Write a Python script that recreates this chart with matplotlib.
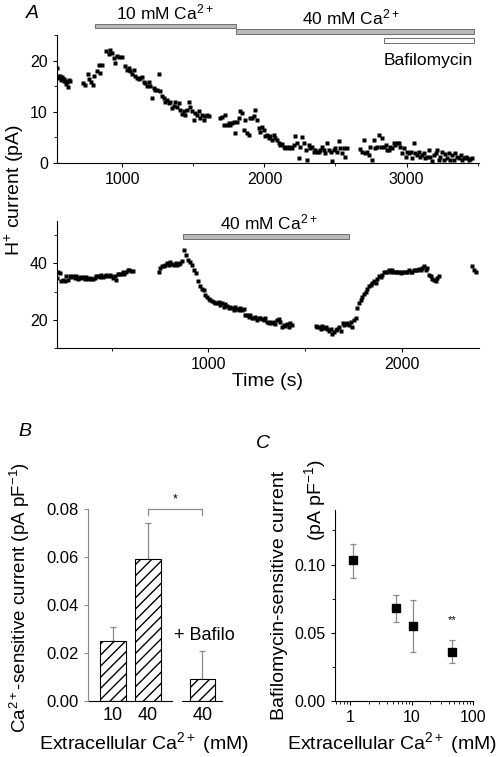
import numpy as np
import matplotlib
matplotlib.use("Agg")
import matplotlib.pyplot as plt
from matplotlib.ticker import MultipleLocator, LogLocator, NullFormatter, FixedLocator

plt.rcParams.update({
    "font.family": ["Liberation Sans", "DejaVu Sans"],
    "mathtext.fontset": "custom",
    "mathtext.rm": "Liberation Sans",
    "mathtext.it": "Liberation Sans:italic",
    "mathtext.bf": "Liberation Sans:bold",
    "axes.linewidth": 0.8,
})

# ---- A, upper trace: H+ current (pA) vs time (s)
A1_T = [542, 548, 554, 561, 567, 573, 580, 586, 592, 599, 605, 611, 617, 624, 630,
        723, 739, 756, 763, 779, 793, 803, 822, 833, 845, 857,
        887, 904, 916, 927, 939, 951, 962, 979, 998, 1016, 1033, 1045, 1056, 1068,
        1080, 1092, 1103, 1115, 1127, 1138, 1150, 1162, 1174, 1185, 1197, 1209,
        1221, 1232, 1244, 1256, 1268, 1279, 1291, 1303, 1315, 1326, 1338, 1350,
        1361, 1373, 1385, 1397, 1408, 1420, 1432, 1444, 1455, 1467, 1479, 1491,
        1502, 1514, 1526, 1537, 1549, 1561, 1573, 1584, 1596, 1608,
        1690, 1702, 1714, 1725, 1737, 1749, 1760, 1772, 1784, 1796, 1807, 1819,
        1831, 1843, 1854, 1866, 1878, 1890, 1901, 1913, 1925, 1936, 1948, 1960,
        1972, 1983, 1995, 2007, 2019, 2030, 2042, 2054, 2066, 2077, 2089, 2101,
        2112, 2124, 2136, 2148, 2159, 2171, 2183, 2195, 2206, 2218, 2230, 2242,
        2253, 2265, 2277, 2289, 2300, 2312, 2324, 2335, 2347, 2359, 2371, 2382,
        2394, 2406, 2418, 2429, 2441, 2453, 2465, 2476, 2488, 2500, 2511, 2523,
        2535, 2547, 2558, 2570, 2582,
        2676, 2688, 2699, 2711, 2723, 2734, 2746, 2758, 2770, 2781, 2793, 2805,
        2817, 2828, 2840, 2852, 2863, 2875, 2887, 2899, 2910, 2922, 2934, 2946,
        2957, 2969, 2981, 2993, 3004, 3016, 3028, 3039, 3051, 3063, 3075, 3086,
        3098, 3110, 3122, 3133, 3145, 3157, 3168, 3180, 3192, 3204, 3215, 3227,
        3239, 3251, 3262, 3274, 3286, 3297, 3309, 3321, 3333, 3344, 3356, 3368,
        3380, 3391, 3403, 3415, 3426, 3438, 3450, 3462]
A1_I = [18.6, 16.9, 16.6, 17.0, 16.2, 16.8, 16.4, 16.0, 16.5, 16.1, 15.4, 15.9, 14.8, 16.3, 16.0,
        15.6, 15.3, 17.3, 16.4, 15.9, 15.3, 16.9, 17.9, 19.2, 17.6, 19.2,
        21.8, 21.2, 22.0, 21.5, 20.5, 19.5, 20.9, 20.7, 20.7, 18.9, 18.2, 18.6, 17.9, 17.3,
        18.2, 16.9, 16.6, 16.5, 16.6, 16.8, 15.9, 15.6, 15.0, 15.8, 15.0, 12.7,
        14.6, 14.3, 14.3, 17.3, 14.0, 13.0, 12.7, 12.0, 12.4, 11.7, 12.0, 10.7,
        11.2, 12.0, 11.0, 11.7, 10.4, 9.5, 10.1, 9.4, 10.4, 12.0, 11.0, 10.1,
        8.4, 9.7, 9.4, 10.1, 8.8, 9.4, 8.4, 9.1, 9.4, 9.1,
        8.8, 9.0, 7.5, 9.4, 7.5, 7.8, 7.5, 7.8, 8.1, 5.9, 8.1, 8.8,
        10.1, 9.7, 6.5, 8.4, 5.8, 5.5, 8.8, 8.8, 9.1, 10.4, 8.4, 6.8,
        6.1, 7.1, 6.5, 5.2, 5.5, 4.8, 5.2, 4.5, 5.5, 4.8, 4.5, 3.9,
        3.5, 3.7, 3.2, 2.9, 3.2, 2.9, 3.2, 2.9, 3.5, 5.2, 3.9, 0.9,
        3.2, 5.0, 3.9, 2.5, 0.6, 3.5, 2.9, 3.2, 2.2, 2.5, 2.2, 2.2,
        2.5, 3.2, 2.5, 1.9, 3.9, 2.5, 2.2, 0.3, 2.5, 2.9, 2.2, 4.2,
        2.9, 1.9, 2.9, 1.2, 2.9,
        2.7, 2.2, 4.5, 1.9, 2.2, 1.6, 3.2, 0.6, 4.5, 2.9, 3.2, 5.5,
        3.2, 4.8, 3.2, 3.5, 2.5, 2.5, 3.2, 2.9, 3.9, 3.5, 3.9, 4.0,
        3.2, 1.9, 2.9, 1.2, 2.2, 1.9, 2.2, 0.9, 3.9, 1.9, 1.6, 2.2,
        1.2, 1.6, 1.9, 0.9, 1.2, 2.5, 1.2, 0.3, 1.6, 1.9, 2.5, 0.6,
        1.2, 2.2, 0.6, 1.8, 0.9, 2.0, 0.6, 1.6, 0.6, 1.9, 1.2, 0.9,
        1.6, 0.6, 0.9, 1.2, 0.9, 0.6, 0.7, 0.9]
A1_CA10 = (805, 1803)
A1_CA40 = (1803, 3474)
A1_BAF = (2840, 3474)

# ---- A, lower trace
A2_T = [217, 224, 231, 239, 248, 257, 265, 274, 282, 291, 300, 308, 317, 325, 334,
        343, 351, 360, 368, 377, 386, 394, 403, 411, 420, 429, 437, 446, 454, 463,
        472, 480, 489, 497, 506, 515, 523, 532, 540, 549, 558, 566, 575, 584, 592,
        601, 609,
        744, 752, 761, 769, 778, 787, 795, 804, 812, 821, 830, 838, 847, 855, 864,
        876, 885, 897, 905, 916, 928, 936, 948, 959, 967, 976, 985, 993, 1002,
        1010, 1019, 1028, 1036, 1045, 1053, 1062, 1071, 1079, 1088, 1096, 1105,
        1114, 1122, 1131, 1139, 1148, 1157, 1165, 1174, 1182, 1191, 1200, 1208,
        1217, 1225, 1234, 1243, 1251, 1260, 1268, 1277, 1286, 1294, 1303, 1312,
        1320, 1329, 1337, 1346, 1355, 1363, 1372, 1380, 1389, 1398, 1406, 1415,
        1423, 1432,
        1556, 1564, 1573, 1582, 1590, 1599, 1608, 1616, 1625, 1633, 1642, 1651,
        1659, 1668, 1676, 1685, 1694, 1702, 1711, 1719, 1728, 1737, 1745, 1754,
        1762, 1771, 1780, 1788, 1797, 1805, 1814, 1823, 1831, 1840, 1848, 1857,
        1866, 1874, 1883, 1891, 1900, 1909, 1917, 1926, 1935, 1943, 1952, 1960,
        1969, 1978, 1986, 1995, 2003, 2012, 2021, 2029, 2038, 2046, 2055, 2064,
        2072, 2081, 2089, 2098, 2107, 2115, 2124, 2132, 2141, 2150, 2158, 2167,
        2176, 2184, 2193,
        2365, 2373, 2382]
A2_I = [34.8, 37.1, 36.5, 33.6, 34.2, 33.6, 35.6, 34.2, 35.4, 35.1, 35.6, 34.8, 35.4, 34.6, 35.1,
        34.8, 35.0, 34.6, 35.0, 34.4, 34.8, 34.4, 34.5, 34.9, 35.4, 35.6, 35.1, 36.0, 35.1, 35.6,
        36.0, 35.4, 35.8, 35.4, 34.8, 35.6, 34.2, 36.3, 36.3, 36.1, 36.8, 36.3, 37.1, 37.7, 37.5,
        37.3, 37.4,
        37.1, 38.3, 38.9, 39.2, 39.5, 40.1, 39.5, 40.4, 39.9, 39.4, 40.1, 39.5, 39.9, 40.1, 40.7,
        44.9, 43.1, 41.3, 40.4, 39.5, 37.7, 36.5, 33.6, 31.8, 30.8, 30.4, 28.8, 27.9, 27.3,
        27.0, 26.8, 26.4, 26.1, 25.8, 26.4, 25.2, 25.8, 24.6, 25.6, 24.9, 24.1,
        24.6, 24.1, 23.5, 24.4, 23.7, 23.5, 24.1, 23.5, 23.7, 21.7, 21.7, 21.1,
        21.7, 20.8, 20.5, 21.1, 19.9, 20.5, 20.8, 20.1, 19.9, 20.5, 19.3, 18.9,
        19.3, 18.7, 19.3, 18.5, 19.9, 20.1, 19.3, 17.5, 18.1, 17.7, 18.5, 17.5,
        18.7, 18.0,
        17.7, 17.3, 17.5, 16.9, 17.7, 17.2, 17.5, 16.6, 16.1, 16.9, 15.1, 15.7,
        16.3, 16.6, 17.5, 16.1, 18.9, 18.1, 18.5, 18.9, 18.1, 19.3, 17.5, 19.9,
        20.5, 24.1, 25.8, 27.0, 28.2, 29.1, 30.0, 30.8, 31.8, 32.4, 33.0, 33.6,
        33.2, 34.4, 35.4, 35.1, 36.0, 36.8, 37.1, 37.1, 37.5, 37.1, 37.5, 36.8,
        37.1, 36.8, 37.1, 36.5, 37.1, 36.8, 37.1, 36.8, 37.5, 37.1, 37.1, 37.5,
        37.7, 37.5, 38.0, 37.7, 38.3, 38.9, 37.7, 38.3, 36.0, 35.4, 34.4, 34.2,
        33.6, 34.8, 35.4,
        38.9, 37.7, 37.1]
A2_CA40 = (867, 1728)

# ---- B: Ca2+-sensitive current (pA pF-1)
B_LABELS = ["10", "40", "40"]
B_MEAN = [0.025, 0.059, 0.009]
B_SEM = [0.006, 0.015, 0.012]

# ---- C: bafilomycin-sensitive current vs extracellular Ca2+ (mM)
C_CA = [1.1, 5.5, 10.5, 45]
C_MEAN = [0.103, 0.068, 0.055, 0.036]
C_ERR_LO = [0.013, 0.010, 0.019, 0.008]
C_ERR_HI = [0.012, 0.010, 0.019, 0.009]

BAR_GREY = "#b9b9b9"
BAR_EDGE = "#6e6e6e"
ERR_GREY = "#8a8a8a"

fig = plt.figure(figsize=(4.96, 7.57), dpi=100)
W, H = 496, 757


def add_ax(l, t, r, b):
    return fig.add_axes([l / W, 1 - b / H, (r - l) / W, (b - t) / H])


def clean(ax, lsize=11.5):
    ax.spines["top"].set_visible(False)
    ax.spines["right"].set_visible(False)
    ax.tick_params(direction="out", length=3, width=0.8, labelsize=lsize)
    ax.tick_params(which="minor", direction="out", length=2, width=0.6)


# ---- A upper
ax1 = add_ax(57, 35, 479, 163)
clean(ax1)
ax1.plot(A1_T, A1_I, "s", color="black", ms=2.6, mec="none")
ax1.set_xlim(540, 3510)
ax1.set_ylim(0, 25)
ax1.xaxis.set_major_locator(MultipleLocator(1000))
ax1.xaxis.set_minor_locator(MultipleLocator(500))
ax1.yaxis.set_major_locator(MultipleLocator(10))
ax1.yaxis.set_minor_locator(MultipleLocator(5))
ax1.barh(26.8, A1_CA10[1] - A1_CA10[0], left=A1_CA10[0], height=0.8,
         color=BAR_GREY, edgecolor=BAR_EDGE, lw=0.7, clip_on=False)
ax1.barh(25.7, A1_CA40[1] - A1_CA40[0], left=A1_CA40[0], height=0.9,
         color=BAR_GREY, edgecolor=BAR_EDGE, lw=0.7, clip_on=False)
ax1.barh(23.9, A1_BAF[1] - A1_BAF[0], left=A1_BAF[0], height=0.9,
         color="white", edgecolor=BAR_EDGE, lw=0.7, clip_on=False)
ax1.text(1300, 27.4, "10 mM Ca$^{2+}$", ha="center", va="bottom", fontsize=12.5)
ax1.text(2605, 26.4, "40 mM Ca$^{2+}$", ha="center", va="bottom", fontsize=12.5)
ax1.text(3152, 20.0, "Bafilomycin", ha="center", va="center", fontsize=12.5)
fig.text(32 / W, 1 - 14 / H, "A", fontsize=14, style="italic", ha="center", va="center")

# ---- A lower
ax2 = add_ax(57, 221, 479, 348)
clean(ax2)
ax2.plot(A2_T, A2_I, "s", color="black", ms=2.6, mec="none")
ax2.set_xlim(217, 2400)
ax2.set_ylim(10, 55)
ax2.xaxis.set_major_locator(MultipleLocator(1000))
ax2.xaxis.set_minor_locator(MultipleLocator(500))
ax2.yaxis.set_major_locator(MultipleLocator(20))
ax2.yaxis.set_minor_locator(MultipleLocator(10))
ax2.barh(49.4, A2_CA40[1] - A2_CA40[0], left=A2_CA40[0], height=1.8,
         color=BAR_GREY, edgecolor=BAR_EDGE, lw=0.7, clip_on=False)
ax2.text(1315, 50.8, "40 mM Ca$^{2+}$", ha="center", va="bottom", fontsize=12.5)
ax2.set_xlabel("Time (s)", fontsize=14, labelpad=1)
fig.text(14 / W, 1 - 190 / H, "H$^{+}$ current (pA)", rotation=90, fontsize=14,
         ha="center", va="center")

# ---- B
axb = add_ax(88, 509, 222, 701)
axb.spines["top"].set_visible(False)
axb.spines["right"].set_visible(False)
axb.spines["bottom"].set_visible(False)
axb.spines["left"].set_color(ERR_GREY)
xpos = [1.0, 2.0, 3.55]
axb.bar(xpos, B_MEAN, width=0.72, color="white", edgecolor="black", lw=0.8,
        hatch="///", zorder=2)
axb.errorbar(xpos, B_MEAN, yerr=[np.zeros(3), B_SEM], fmt="none", ecolor=ERR_GREY,
             elinewidth=0.9, capsize=2, capthick=0.9, zorder=1)
axb.set_xlim(0.29, 4.11)
axb.set_ylim(0, 0.08)
axb.axhline(0, 0, 0.627, color="black", lw=0.8, clip_on=False)
axb.axhline(0, 0.70, 1.0, color="black", lw=0.8, clip_on=False)
axb.set_xticks(xpos)
axb.set_xticklabels(B_LABELS, fontsize=13)
axb.tick_params(axis="x", length=0, pad=4)
axb.yaxis.set_major_locator(MultipleLocator(0.02))
axb.yaxis.set_major_formatter(matplotlib.ticker.FormatStrFormatter("%.2f"))
axb.tick_params(axis="y", direction="out", length=3, width=0.8, color=ERR_GREY, labelsize=12)
top = 0.08
axb.plot([xpos[1], xpos[1], xpos[2], xpos[2]], [top - 0.0025, top, top, top - 0.0025],
         color=ERR_GREY, lw=0.9, clip_on=False)
axb.text((xpos[1] + xpos[2]) / 2, top + 0.004, "*", ha="center", va="center", fontsize=9)
axb.text(xpos[2] + 0.05, 0.0275, "+ Bafilo", ha="center", va="center", fontsize=13)
fig.text(20 / W, 1 - 598 / H, "Ca$^{2+}$-sensitive current (pA pF$^{-1}$)", rotation=90,
         fontsize=13.5, ha="center", va="center")
fig.text(144 / W, 1 - 743 / H, "Extracellular Ca$^{2+}$ (mM)", fontsize=14,
         ha="center", va="center")
fig.text(25 / W, 1 - 432 / H, "B", fontsize=14, style="italic", ha="center", va="center")

# ---- C
axc = add_ax(335, 510, 473, 701)
clean(axc)
axc.errorbar(C_CA, C_MEAN, yerr=[C_ERR_LO, C_ERR_HI], fmt="s", color="black",
             ms=5.2, ecolor=ERR_GREY, elinewidth=0.9, capsize=2, capthick=0.9)
axc.set_xscale("log")
axc.set_xlim(0.57, 100)
axc.set_ylim(0, 0.14)
axc.xaxis.set_major_locator(FixedLocator([1, 10, 100]))
axc.xaxis.set_major_formatter(matplotlib.ticker.FixedFormatter(["1", "10", "100"]))
axc.xaxis.set_minor_locator(LogLocator(base=10, subs=np.arange(2, 10)))
axc.xaxis.set_minor_formatter(NullFormatter())
axc.yaxis.set_major_locator(FixedLocator([0, 0.05, 0.10]))
axc.yaxis.set_major_formatter(matplotlib.ticker.FormatStrFormatter("%.2f"))
axc.yaxis.set_minor_locator(MultipleLocator(0.025))
axc.tick_params(labelsize=11.5)
axc.text(C_CA[3], 0.059, "**", ha="center", va="center", fontsize=8)
fig.text(280 / W, 1 - 595 / H, "Bafilomycin-sensitive current", rotation=90, fontsize=14,
         ha="center", va="center")
fig.text(315 / W, 1 - 500 / H, "(pA pF$^{-1}$)", rotation=90, fontsize=14,
         ha="center", va="center")
fig.text(392 / W, 1 - 743 / H, "Extracellular Ca$^{2+}$ (mM)", fontsize=14,
         ha="center", va="center")
fig.text(263 / W, 1 - 443 / H, "C", fontsize=14, style="italic", ha="center", va="center")

fig.savefig("out.png", dpi=100)
